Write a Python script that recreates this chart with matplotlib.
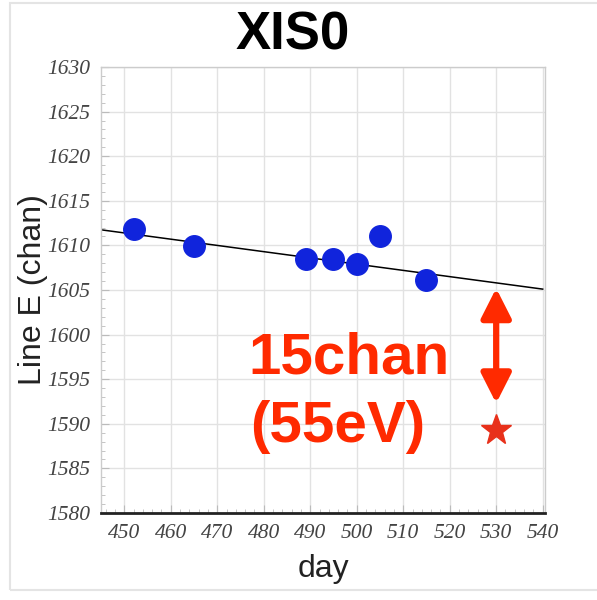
import matplotlib
matplotlib.use("Agg")
import matplotlib.pyplot as plt
from matplotlib.patches import Rectangle
from matplotlib.ticker import MultipleLocator

# Measured line energies (channel) versus observation day
days = [452, 465, 489, 495, 500, 505, 515]
line_e = [1611.8, 1609.9, 1608.5, 1608.5, 1607.9, 1611.1, 1606.1]

# Linear trend through the measurements
fit_days = [445, 540]
fit_e = [1611.75, 1605.1]

# Later measurement and the gap marker
star_day = 530
star_e = 1589.3
gap_top = 1605.2
gap_bottom = 1592.3

x_ticks = [450, 460, 470, 480, 490, 500, 510, 520, 530, 540]
y_ticks = [1580, 1585, 1590, 1595, 1600, 1605, 1610, 1615, 1620, 1625, 1630]

RED = "#ff2a00"
BLUE = "#1024dc"

fig = plt.figure(figsize=(5.97, 6.00), dpi=100)
fig.patch.set_facecolor("white")
fig.patches.append(Rectangle((10 / 597, 10 / 600), 1.1, 0.978, transform=fig.transFigure,
                             fill=False, edgecolor="#e4e4e4", linewidth=1.5))

ax = fig.add_axes([0.1692, 0.145, 0.7437, 0.7433])
ax.set_xlim(445, 540.5)
ax.set_ylim(1580, 1630)

ax.grid(True, color="#e2e2e2", linewidth=1.0)
ax.set_axisbelow(True)

ax.plot(fit_days, fit_e, color="black", linewidth=1.1, zorder=2)
ax.plot(days, line_e, "o", color=BLUE, markersize=15.5, zorder=3)
ax.plot([star_day], [star_e], "*", color="#e8301a", markersize=23, zorder=3)

ax.annotate("", xy=(star_day, gap_bottom), xytext=(star_day, gap_top),
            arrowprops=dict(arrowstyle="<|-|>,head_length=0.75,head_width=0.38",
                            color=RED, lw=4.5, shrinkA=0, shrinkB=0,
                            mutation_scale=24))

ax.text(498.3, 1595.6, "15chan", color=RED, fontsize=42, fontweight="bold",
        family="Liberation Sans", ha="center", va="baseline")
ax.text(496.0, 1589.6, "(55eV)", color=RED, fontsize=42, fontweight="bold",
        family="Liberation Sans", ha="center", va="center")

ax.set_xticks(x_ticks)
ax.set_yticks(y_ticks)
ax.xaxis.set_minor_locator(MultipleLocator(2))
ax.yaxis.set_minor_locator(MultipleLocator(1))
tick_font = dict(family="Liberation Serif", style="italic", size=15.5, color="#444444")
ax.set_xticklabels([str(v) for v in x_ticks], **tick_font)
ax.set_yticklabels([str(v) for v in y_ticks], **tick_font)
ax.tick_params(which="both", direction="in", color="#bbbbbb")
ax.tick_params(which="major", length=6, pad=8)
ax.tick_params(which="minor", length=3)

for side in ["top", "right", "left"]:
    ax.spines[side].set_color("#cccccc")
    ax.spines[side].set_linewidth(1.0)
ax.spines["bottom"].set_color("#222222")
ax.spines["bottom"].set_linewidth(2.0)

ax.set_xlabel("day", family="Liberation Sans", fontsize=23, color="#222222", labelpad=8)
ax.set_ylabel("Line E (chan)", family="Liberation Sans", fontsize=23, color="#222222", labelpad=4)
ax.yaxis.set_label_coords(-0.12, 0.5)

fig.text(293 / 597, 1 - 36 / 600, "XIS0", family="Liberation Sans", fontweight="bold",
         fontsize=38, ha="center", va="center", color="black")

fig.savefig("out.png", dpi=100)
